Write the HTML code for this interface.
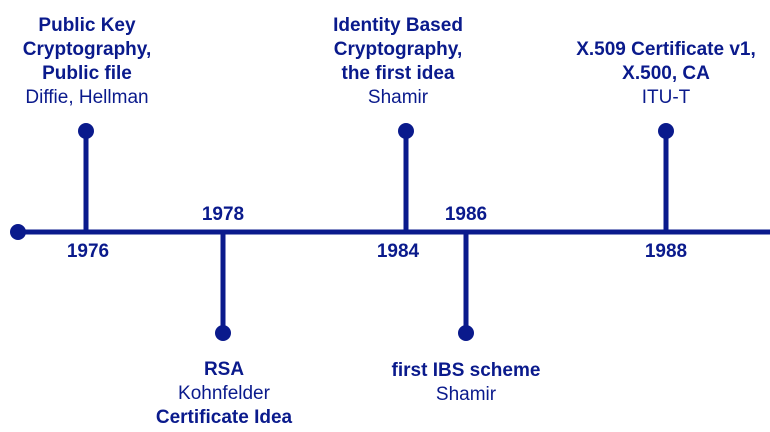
<!DOCTYPE html>
<html><head><meta charset="utf-8"><style>
html,body{margin:0;padding:0;background:#fff;}
svg{display:block;}
text{font-family:"Liberation Sans",Arial,sans-serif;font-size:19px;fill:#0a1a8c;text-anchor:middle;}
.b{font-weight:bold;}
</style></head><body>
<svg width="770" height="432" viewBox="0 0 770 432">
<g stroke="#0a1a8c" stroke-width="5" fill="none">
<line x1="18" y1="232" x2="770" y2="232"/>
<line x1="86" y1="131" x2="86" y2="232"/>
<line x1="223" y1="232" x2="223" y2="333"/>
<line x1="406" y1="131" x2="406" y2="232"/>
<line x1="466" y1="232" x2="466" y2="333"/>
<line x1="666" y1="131" x2="666" y2="232"/>
</g>
<g fill="#0a1a8c">
<circle cx="18" cy="232" r="8"/>
<circle cx="86" cy="131" r="8"/>
<circle cx="223" cy="333" r="8"/>
<circle cx="406" cy="131" r="8"/>
<circle cx="466" cy="333" r="8"/>
<circle cx="666" cy="131" r="8"/>
</g>
<text class="b" x="88" y="257">1976</text>
<text class="b" x="223" y="220">1978</text>
<text class="b" x="398" y="257">1984</text>
<text class="b" x="466" y="220">1986</text>
<text class="b" x="666" y="257">1988</text>
<text class="b" x="87" y="31">Public Key</text>
<text class="b" x="87" y="55">Cryptography,</text>
<text class="b" x="87" y="79">Public file</text>
<text x="87" y="103">Diffie, Hellman</text>
<text class="b" x="398" y="31">Identity Based</text>
<text class="b" x="398" y="55">Cryptography,</text>
<text class="b" x="398" y="79">the first idea</text>
<text x="398" y="103">Shamir</text>
<text class="b" x="666" y="55">X.509 Certificate v1,</text>
<text class="b" x="666" y="79">X.500, CA</text>
<text x="666" y="103">ITU-T</text>
<text class="b" x="224" y="375">RSA</text>
<text x="224" y="399">Kohnfelder</text>
<text class="b" x="224" y="423">Certificate Idea</text>
<text class="b" x="466" y="376">first IBS scheme</text>
<text x="466" y="400">Shamir</text>
</svg>
</body></html>
